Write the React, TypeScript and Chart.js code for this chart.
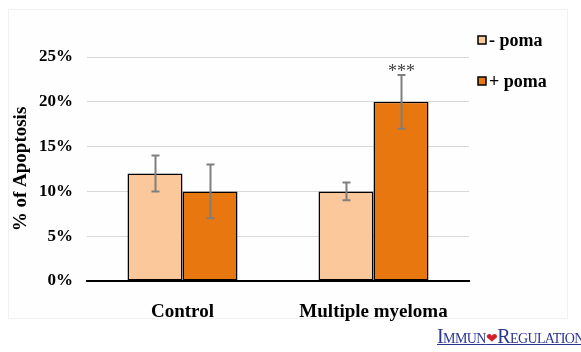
import React, { useEffect, useRef } from "react";
import { Chart, registerables } from "chart.js";

Chart.register(...registerables);

const categories = ["Control", "Multiple myeloma"];
const seriesNames = ["- poma", "+ poma"];
const minusPoma = [12, 10];
const plusPoma = [10, 20];
const minusPomaErr = [2, 1];
const plusPomaErr = [3, 3];
const significance = ["", "***"];
const yTicks = [0, 5, 10, 15, 20, 25];

const COLORS = ["#FAC89A", "#E8770F"];
const SERIF = "'Liberation Serif', 'Times New Roman', serif";

export default function App() {
  const ref = useRef<HTMLCanvasElement | null>(null);

  useEffect(() => {
    document.body.style.margin = "0";
    const canvas = ref.current;
    if (!canvas) return;
    const errs = [minusPomaErr, plusPomaErr];

    const panelPlugin = {
      id: "panel",
      beforeDraw(chart: any) {
        const { ctx } = chart;
        ctx.save();
        ctx.fillStyle = "#ffffff";
        ctx.fillRect(0, 0, chart.width, chart.height);
        ctx.fillStyle = "#fefefe";
        ctx.fillRect(8, 9, 559, 309);
        ctx.strokeStyle = "#f1f1f1";
        ctx.lineWidth = 1;
        ctx.strokeRect(8.5, 9.5, 559, 309);
        ctx.restore();
      },
    };

    const errorPlugin = {
      id: "errs",
      afterDatasetsDraw(chart: any) {
        const { ctx } = chart;
        const y = chart.scales.y;
        ctx.save();
        chart.data.datasets.forEach((ds: any, di: number) => {
          const meta = chart.getDatasetMeta(di);
          meta.data.forEach((bar: any, i: number) => {
            const v = ds.data[i];
            const e = errs[di][i];
            const x = Math.round(bar.x) + 0.5;
            const top = y.getPixelForValue(v + e);
            const bot = y.getPixelForValue(v - e);
            ctx.strokeStyle = "#7f7f7f";
            ctx.lineWidth = 2;
            ctx.beginPath();
            ctx.moveTo(x, top);
            ctx.lineTo(x, bot);
            ctx.moveTo(x - 4, top);
            ctx.lineTo(x + 4, top);
            ctx.moveTo(x - 4, bot);
            ctx.lineTo(x + 4, bot);
            ctx.stroke();
            if (di === 1 && significance[i]) {
              ctx.fillStyle = "#404040";
              ctx.font = `18px ${SERIF}`;
              ctx.textAlign = "center";
              ctx.textBaseline = "alphabetic";
              ctx.fillText(significance[i], x, top + 2);
            }
          });
        });
        ctx.restore();
      },
    };

    const legendPlugin = {
      id: "customLegend",
      afterDraw(chart: any) {
        const { ctx } = chart;
        ctx.save();
        chart.data.datasets.forEach((ds: any, i: number) => {
          const yy = 40 + i * 41;
          ctx.fillStyle = ds.backgroundColor;
          ctx.fillRect(478, yy - 4, 8, 8);
          ctx.strokeStyle = "#000";
          ctx.lineWidth = 1.5;
          ctx.strokeRect(478, yy - 4, 8, 8);
          ctx.fillStyle = "#000";
          ctx.font = `bold 18px ${SERIF}`;
          ctx.textAlign = "left";
          ctx.textBaseline = "middle";
          ctx.fillText(ds.label, 489, yy + 1);
        });
        ctx.restore();
      },
    };

    const chart = new Chart(canvas, {
      type: "bar",
      data: {
        labels: categories,
        datasets: [
          {
            label: seriesNames[0],
            data: minusPoma,
            backgroundColor: COLORS[0],
            borderColor: "#000",
            borderWidth: 1.5,
            borderSkipped: false,
            categoryPercentage: 0.576,
            barPercentage: 1,
          },
          {
            label: seriesNames[1],
            data: plusPoma,
            backgroundColor: COLORS[1],
            borderColor: "#000",
            borderWidth: 1.5,
            borderSkipped: false,
            categoryPercentage: 0.576,
            barPercentage: 1,
          },
        ],
      },
      options: {
        responsive: false,
        animation: false,
        devicePixelRatio: 1,
        layout: { padding: { left: 8, top: 57, right: 112, bottom: 31 } },
        plugins: {
          legend: { display: false },
          tooltip: { enabled: false },
        },
        scales: {
          x: {
            grid: { display: false },
            border: { display: true, color: "#000", width: 2 },
            ticks: {
              color: "#000",
              font: { family: SERIF, size: 19, weight: "bold" },
              padding: 12,
            },
            afterFit(scale: any) {
              scale.height = 40;
            },
          },
          y: {
            min: 0,
            max: 25,
            afterBuildTicks(scale: any) {
              scale.ticks = yTicks.map((v) => ({ value: v }));
            },
            grid: {
              color: (c: any) => (c.tick && c.tick.value === 0 ? "rgba(0,0,0,0)" : "#d9d9d9"),
              lineWidth: 1,
              drawTicks: false,
            },
            border: { display: false },
            ticks: {
              color: "#000",
              font: { family: SERIF, size: 17, weight: "bold" },
              padding: 14,
              callback: (v: any) => `${v}%`,
            },
            title: {
              display: true,
              text: "% of Apoptosis",
              color: "#000",
              font: { family: SERIF, size: 19, weight: "bold" },
              padding: { top: 2, bottom: 0 },
            },
            afterFit(scale: any) {
              scale.width = 79;
            },
          },
        },
      },
      plugins: [panelPlugin, errorPlugin, legendPlugin],
    });
    return () => chart.destroy();
  }, []);

  return (
    <div style={{ position: "relative", width: 581, height: 352 }}>
      <canvas ref={ref} width={581} height={352} style={{ display: "block" }} />
      <div
        style={{
          position: "absolute",
          left: 437,
          top: 325,
          whiteSpace: "nowrap",
          fontFamily: SERIF,
          fontSize: 20,
          fontVariant: "small-caps",
          color: "#2a3590",
          textDecoration: "underline",
          textDecorationThickness: 1,
          letterSpacing: -0.6,
          lineHeight: "22px",
        }}
      >
        Immun<span style={{ color: "#d0202a", fontSize: 14 }}>❤</span>Regulation
      </div>
    </div>
  );
}
